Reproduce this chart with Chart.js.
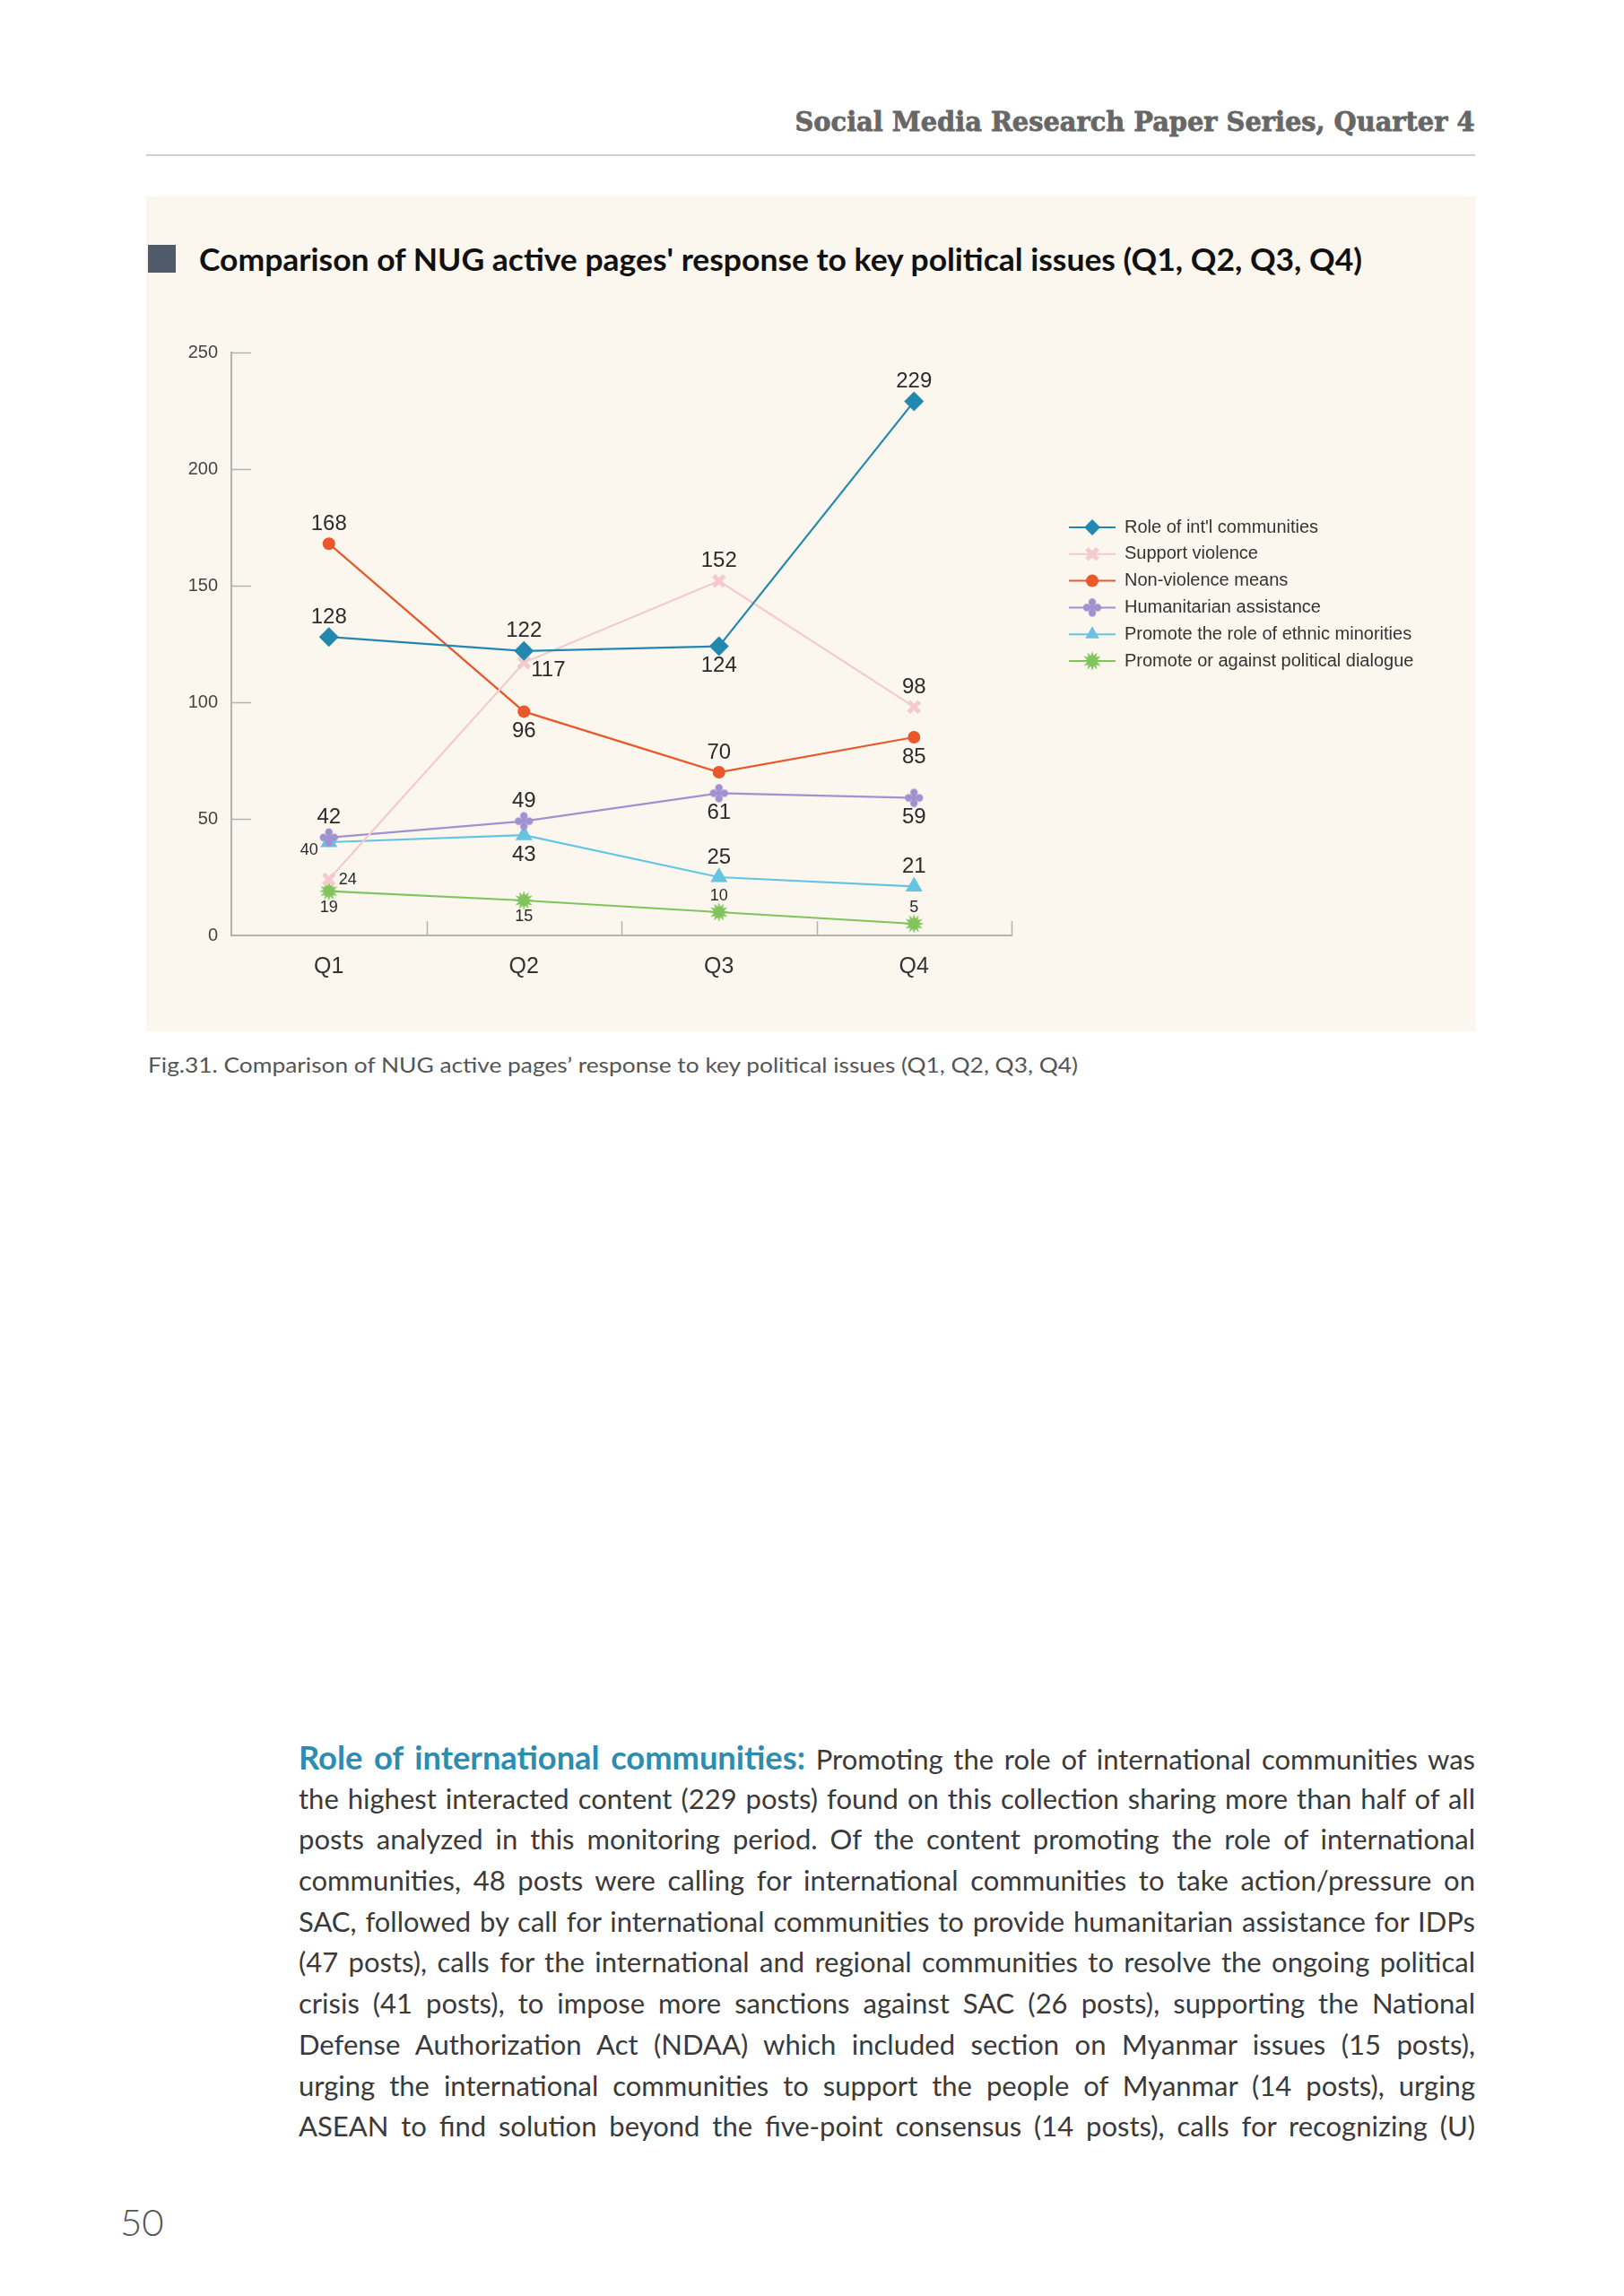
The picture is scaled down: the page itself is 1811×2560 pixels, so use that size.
<!DOCTYPE html>
<html>
<head>
<meta charset="utf-8">
<script src="https://cdn.jsdelivr.net/npm/chart.js@4.4.1/dist/chart.umd.min.js"></script>
<style>
html, body { margin: 0; padding: 0; background: #fff; }
body { width: 1811px; height: 2560px; position: relative; overflow: hidden; font-family: Lato, "Open Sans", sans-serif; }
.abs { position: absolute; white-space: nowrap; }
#header { right: 166px; top: 118px; font: bold 30px "DejaVu Serif", serif; color: #676767; line-height: 36px; transform-origin: right center; -webkit-text-stroke: 0.8px #676767; }
#rule { left: 163px; top: 172px; width: 1482px; height: 2px; background: #d0d0d0; }
#panel { left: 163px; top: 219px; width: 1483px; height: 931px; background: #fbf7ee; }
#square { left: 165px; top: 273px; width: 31px; height: 31px; background: #4f5b6b; }
#title { left: 222px; top: 268px; font: bold 35px Lato, sans-serif; color: #111; line-height: 40px; transform-origin: left center; }
#chartBox { left: 163px; top: 219px; width: 1483px; height: 931px; }
#caption { left: 165px; top: 1172px; font: 24px Lato, sans-serif; color: #555; line-height: 30px; transform-origin: left center; }
#body { left: 333px; top: 1937px; width: 1312px; }
.line { height: 45.7px; line-height: 45.7px; font-size: 27px; color: #3a3a3a; white-space: nowrap; }
.head { color: #2b8db0; font-size: 1.17em; font-weight: bold; }
#pageno { left: 134px; top: 2455px; font: 300 42px Lato, sans-serif; color: #555; line-height: 44px; }
</style>
</head>
<body>
<div id="header" class="abs">Social Media Research Paper Series, Quarter 4</div>
<div id="rule" class="abs"></div>
<div id="panel" class="abs"></div>
<div id="square" class="abs"></div>
<div id="title" class="abs">Comparison of NUG active pages' response to key political issues (Q1, Q2, Q3, Q4)</div>
<div id="chartBox" class="abs"><canvas id="nugChart"></canvas></div>
<div id="caption" class="abs">Fig.31. Comparison of NUG active pages’ response to key political issues (Q1, Q2, Q3, Q4)</div>
<div id="body" class="abs">
  <div class="line"><span><span class="head">Role of international communities:</span> Promoting the role of international communities was</span></div>
  <div class="line"><span>the highest interacted content (229 posts) found on this collection sharing more than half of all</span></div>
  <div class="line"><span>posts analyzed in this monitoring period. Of the content promoting the role of international</span></div>
  <div class="line"><span>communities, 48 posts were calling for international communities to take action/pressure on</span></div>
  <div class="line"><span>SAC, followed by call for international communities to provide humanitarian assistance for IDPs</span></div>
  <div class="line"><span>(47 posts), calls for the international and regional communities to resolve the ongoing political</span></div>
  <div class="line"><span>crisis (41 posts), to impose more sanctions against SAC (26 posts), supporting the National</span></div>
  <div class="line"><span>Defense Authorization Act (NDAA) which included section on Myanmar issues (15 posts),</span></div>
  <div class="line"><span>urging the international communities to support the people of Myanmar (14 posts), urging</span></div>
  <div class="line"><span>ASEAN to find solution beyond the five-point consensus (14 posts), calls for recognizing (U)</span></div>
</div>
<div id="pageno" class="abs">50</div>

<script>
const quarters = ['Q1', 'Q2', 'Q3', 'Q4'];
const yTicks = [0, 50, 100, 150, 200, 250];

const roleIntl = [128, 122, 124, 229];
const supportViolence = [24, 117, 152, 98];
const nonViolence = [168, 96, 70, 85];
const humanitarian = [42, 49, 61, 59];
const ethnicMinorities = [40, 43, 25, 21];
const politicalDialogue = [19, 15, 10, 5];

// where each value label sits next to its point
const rolePos = ['above', 'above', 'below', 'above'];
const supportPos = ['right', 'rightBelow', 'above', 'above'];
const nonViolPos = ['above', 'below', 'above', 'below'];
const humanPos = ['above', 'above', 'below', 'below'];
const ethnicPos = ['leftBelow', 'below', 'above', 'above'];
const dialoguePos = ['below', 'below', 'above', 'above'];

const labelFont = '"Liberation Sans", Arial, sans-serif';

// fit single-line headings to the widths measured on the page
function fitWidth(el, w) {
  const cur = el.getBoundingClientRect().width;
  el.style.transform = 'scaleX(' + (w / cur) + ')';
}
fitWidth(document.getElementById('header'), 758);
fitWidth(document.getElementById('title'), 1297);
fitWidth(document.getElementById('caption'), 1037);

// body text: size so the densest line just fits, then justify by hand
const lines = document.querySelectorAll('.line');
let widest = 0;
lines.forEach(l => { widest = Math.max(widest, l.firstElementChild.getBoundingClientRect().width); });
const bodySize = Math.min(31, 27 * 1300 / widest);
lines.forEach(l => { l.style.fontSize = bodySize + 'px'; });
lines.forEach(line => {
  const span = line.firstElementChild;
  const w = span.getBoundingClientRect().width;
  const spaces = (span.textContent.match(/ /g) || []).length;
  if (spaces) line.style.wordSpacing = ((1312 - w) / spaces) + 'px';
});

function flower(color) {
  const c = document.createElement('canvas');
  c.width = c.height = 24;
  const g = c.getContext('2d');
  g.fillStyle = color;
  [[0, -6], [6, 0], [0, 6], [-6, 0]].forEach(([dx, dy]) => {
    g.beginPath(); g.arc(12 + dx, 12 + dy, 4.2, 0, Math.PI * 2); g.fill();
  });
  g.beginPath(); g.arc(12, 12, 3, 0, Math.PI * 2); g.fill();
  return c;
}

function burst(color) {
  const c = document.createElement('canvas');
  c.width = c.height = 24;
  const g = c.getContext('2d');
  g.fillStyle = color;
  g.beginPath();
  const n = 12;
  for (let i = 0; i < n * 2; i++) {
    const r = i % 2 ? 6 : 11;
    const a = i * Math.PI / n;
    g.lineTo(12 + r * Math.cos(a), 12 + r * Math.sin(a));
  }
  g.closePath();
  g.fill();
  return c;
}

function series(label, data, color, style, radius, pos, small) {
  return {
    label: label,
    data: data,
    borderColor: color,
    backgroundColor: color,
    borderWidth: 2.2,
    tension: 0,
    pointStyle: style,
    pointRadius: radius,
    pointBackgroundColor: color,
    pointBorderColor: color,
    pointBorderWidth: style === 'crossRot' ? 5 : 0,
    labelPos: pos,
    labelSmall: small
  };
}

const valueLabels = {
  id: 'valueLabels',
  afterDatasetsDraw(chart) {
    const ctx = chart.ctx;
    ctx.save();
    ctx.fillStyle = '#2b2b2b';
    ctx.textBaseline = 'middle';
    chart.data.datasets.forEach((ds, di) => {
      chart.getDatasetMeta(di).data.forEach((pt, i) => {
        const small = ds.labelSmall[i];
        ctx.font = (small ? 18 : 24) + 'px ' + labelFont;
        ctx.textAlign = 'center';
        let x = pt.x, y = pt.y;
        const gap = small ? 18 : 22;
        const pos = ds.labelPos[i];
        if (pos === 'above') y -= gap;
        else if (pos === 'below') y += gap;
        else if (pos === 'right') { x += 11; ctx.textAlign = 'left'; }
        else if (pos === 'rightBelow') { x += 8; y += 9; ctx.textAlign = 'left'; }
        else if (pos === 'leftBelow') { x -= 12; y += 9; ctx.textAlign = 'right'; }
        ctx.fillText(ds.data[i], x, y);
      });
    });
    ctx.restore();
  }
};

// short tick marks drawn inward from the axes
const innerTicks = {
  id: 'innerTicks',
  beforeDatasetsDraw(chart) {
    const {ctx, chartArea, scales: {x, y}} = chart;
    ctx.save();
    ctx.strokeStyle = '#b3b3b3';
    ctx.lineWidth = 1.5;
    ctx.beginPath();
    y.ticks.forEach(t => {
      if (t.value === 0) return;
      const py = Math.round(y.getPixelForValue(t.value)) + 0.5;
      ctx.moveTo(chartArea.left, py);
      ctx.lineTo(chartArea.left + 22, py);
    });
    for (let i = 1; i <= quarters.length; i++) {
      const px = Math.round(x.getPixelForValue(i - 0.5)) + 0.5;
      ctx.moveTo(px, chartArea.bottom);
      ctx.lineTo(px, chartArea.bottom - 16);
    }
    ctx.stroke();
    ctx.restore();
  }
};

const sideLegend = {
  id: 'sideLegend',
  afterDraw(chart) {
    const {ctx, chartArea} = chart;
    const lx = chartArea.right + 64;
    const ty = chartArea.top + 195;
    ctx.save();
    ctx.font = '20px ' + labelFont;
    ctx.textBaseline = 'middle';
    ctx.textAlign = 'left';
    chart.data.datasets.forEach((ds, i) => {
      const yy = ty + i * 29.8;
      ctx.strokeStyle = ds.borderColor;
      ctx.fillStyle = ds.borderColor;
      ctx.lineWidth = 2;
      ctx.beginPath();
      ctx.moveTo(lx, yy);
      ctx.lineTo(lx + 52, yy);
      ctx.stroke();
      if (Chart.helpers && Chart.helpers.drawPoint) {
        ctx.lineWidth = ds.pointBorderWidth;
        Chart.helpers.drawPoint(ctx, {
          pointStyle: ds.pointStyle,
          radius: Math.min(ds.pointRadius, 9),
          borderWidth: ds.pointBorderWidth,
          rotation: 0
        }, lx + 26, yy);
      }
      ctx.fillStyle = '#333';
      ctx.fillText(ds.label, lx + 62, yy);
    });
    ctx.restore();
  }
};

const nugChart = document.getElementById('nugChart');

new Chart(nugChart, {
  type: 'line',
  data: {
    labels: quarters,
    datasets: [
      series("Role of int'l communities", roleIntl, '#2388b0', 'rectRot', 11, rolePos, [false, false, false, false]),
      series('Support violence', supportViolence, '#f4cace', 'crossRot', 8.5, supportPos, [true, false, false, false]),
      series('Non-violence means', nonViolence, '#e8582b', 'circle', 7, nonViolPos, [false, false, false, false]),
      series('Humanitarian assistance', humanitarian, '#a092d0', flower('#a092d0'), 11, humanPos, [false, false, false, false]),
      series('Promote the role of ethnic minorities', ethnicMinorities, '#66c4e3', 'triangle', 11, ethnicPos, [true, false, false, false]),
      series('Promote or against political dialogue', politicalDialogue, '#7fc45c', burst('#7fc45c'), 11, dialoguePos, [true, true, true, true])
    ]
  },
  options: {
    responsive: true,
    maintainAspectRatio: false,
    animation: false,
    layout: { padding: { left: 0, top: 174, right: 518, bottom: 47 } },
    plugins: {
      legend: { display: false },
      tooltip: { enabled: false }
    },
    scales: {
      x: {
        offset: true,
        grid: { display: true, drawOnChartArea: false, drawTicks: false },
        border: { color: '#b3b3b3', width: 2 },
        ticks: { padding: 20, color: '#333', font: { size: 25, family: labelFont } },
        afterFit: s => { s.height = 60; }
      },
      y: {
        min: 0,
        max: 250,
        grid: { display: true, drawOnChartArea: false, drawTicks: false },
        border: { color: '#b3b3b3', width: 2 },
        ticks: { padding: 15, color: '#444', font: { size: 20, family: labelFont } },
        afterBuildTicks: s => { s.ticks = yTicks.map(v => ({ value: v })); },
        afterFit: s => { s.width = 95; }
      }
    }
  },
  plugins: [innerTicks, valueLabels, sideLegend]
});
</script>
</body>
</html>
